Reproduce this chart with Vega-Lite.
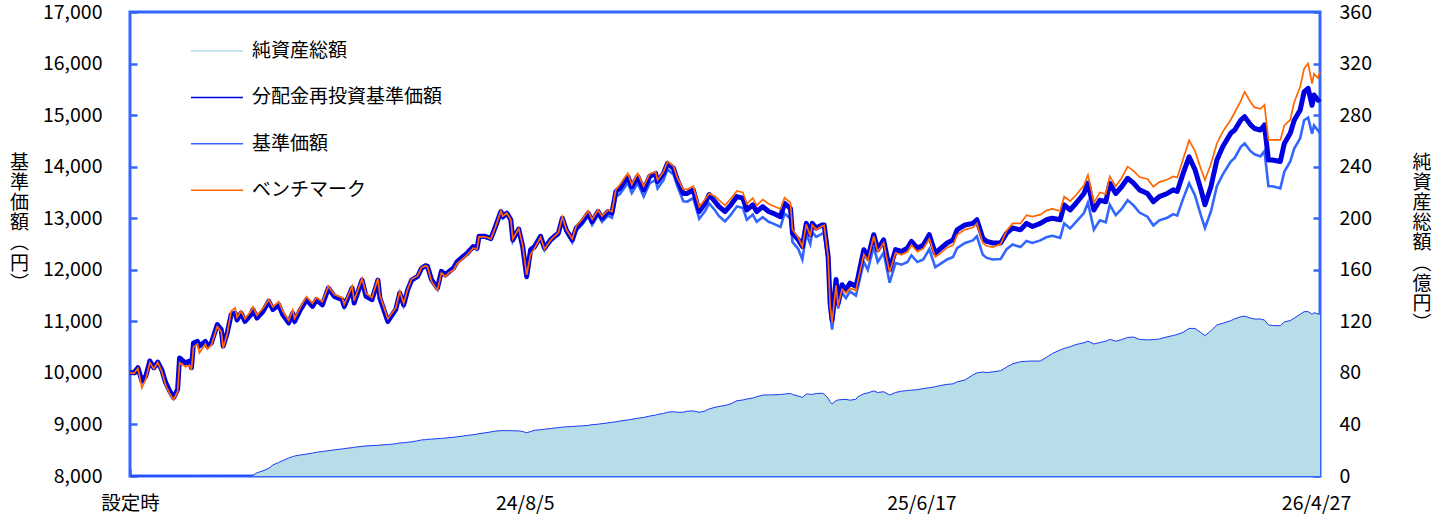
{
"$schema":"https://vega.github.io/schema/vega-lite/v6.json",
"width":1190,"height":464,
"autosize":"none",
"padding":{"left":130,"top":12,"right":115,"bottom":46},
"background":"white",
"config":{
"font":"Noto Sans CJK JP",
"view":{"stroke":"#3366FF","strokeWidth":3},
"axis":{"domain":false,"labelFont":"Noto Sans CJK JP","labelFontSize":19.5,"labelColor":"#000000","tickColor":"#3366FF","tickWidth":2.5,"tickSize":-7,"titleFont":"Noto Sans CJK JP","titleFontSize":19,"titleFontWeight":"normal","titleColor":"#000000","grid":false,"labelOverlap":false,"labelFlush":false,"titleAngle":0,"titleAlign":"center","titleBaseline":"middle","titleLineHeight":20.2},
"axisLeft":{"grid":true,"gridColor":"#3366FF","gridDash":[2,2],"gridWidth":1,"labelPadding":35,"zindex":0},
"axisRight":{"labelPadding":26,"zindex":1,"labelAlign":"left"},
"axisBottom":{"labelPadding":25,"zindex":1}
},
"data":{"values":[
{"d":0,"aum":0,"re":10010,"nav":10000,"bm":10000},
{"d":2,"aum":0,"re":10000,"nav":9990,"bm":9990},
{"d":4,"aum":0,"re":10100,"nav":10090,"bm":10090},
{"d":6,"aum":0,"re":9840,"nav":9830,"bm":9710},
{"d":8,"aum":0,"re":9940,"nav":9930,"bm":9880},
{"d":10,"aum":0,"re":10230,"nav":10220,"bm":10200},
{"d":12,"aum":0,"re":10100,"nav":10090,"bm":10080},
{"d":14,"aum":0,"re":10210,"nav":10200,"bm":10200},
{"d":16,"aum":0,"re":10060,"nav":10050,"bm":10030},
{"d":18,"aum":0,"re":9810,"nav":9800,"bm":9760},
{"d":20,"aum":0,"re":9650,"nav":9640,"bm":9600},
{"d":22,"aum":0,"re":9520,"nav":9510,"bm":9480},
{"d":24,"aum":0,"re":9680,"nav":9670,"bm":9640},
{"d":25,"aum":0,"re":10290,"nav":10280,"bm":10200},
{"d":28,"aum":0,"re":10190,"nav":10180,"bm":10120},
{"d":30,"aum":0.2,"re":10230,"nav":10220,"bm":10150},
{"d":31,"aum":0.2,"re":10100,"nav":10090,"bm":10060},
{"d":32,"aum":0.2,"re":10580,"nav":10570,"bm":10500},
{"d":34,"aum":0.2,"re":10610,"nav":10600,"bm":10560},
{"d":35,"aum":0.2,"re":10520,"nav":10510,"bm":10390},
{"d":38,"aum":0.2,"re":10610,"nav":10600,"bm":10560},
{"d":39,"aum":0.2,"re":10520,"nav":10510,"bm":10460},
{"d":41,"aum":0.2,"re":10580,"nav":10570,"bm":10540},
{"d":44,"aum":0.2,"re":10935,"nav":10925,"bm":10900},
{"d":46,"aum":0.2,"re":10840,"nav":10830,"bm":10800},
{"d":47,"aum":0.2,"re":10520,"nav":10510,"bm":10480},
{"d":49,"aum":0.2,"re":10775,"nav":10765,"bm":10760},
{"d":51,"aum":0.2,"re":11130,"nav":11120,"bm":11200},
{"d":53,"aum":0.2,"re":11160,"nav":11150,"bm":11260},
{"d":54,"aum":0.2,"re":11030,"nav":11020,"bm":11080},
{"d":56,"aum":0.2,"re":11160,"nav":11150,"bm":11200},
{"d":58,"aum":0.2,"re":11000,"nav":10990,"bm":11050},
{"d":61,"aum":0.2,"re":11130,"nav":11120,"bm":11200},
{"d":62,"aum":0.5,"re":11230,"nav":11220,"bm":11280},
{"d":64,"aum":2.5,"re":11065,"nav":11055,"bm":11120},
{"d":67,"aum":4,"re":11190,"nav":11180,"bm":11250},
{"d":70,"aum":6,"re":11390,"nav":11380,"bm":11420},
{"d":72,"aum":8.5,"re":11230,"nav":11220,"bm":11280},
{"d":75,"aum":10.5,"re":11320,"nav":11310,"bm":11380},
{"d":77,"aum":12,"re":11130,"nav":11120,"bm":11200},
{"d":80,"aum":14,"re":10970,"nav":10960,"bm":11020},
{"d":82,"aum":15,"re":11160,"nav":11150,"bm":11220},
{"d":83,"aum":15.5,"re":11000,"nav":10990,"bm":11060},
{"d":86,"aum":16.3,"re":11230,"nav":11220,"bm":11280},
{"d":89,"aum":17,"re":11420,"nav":11410,"bm":11480},
{"d":92,"aum":17.8,"re":11290,"nav":11280,"bm":11350},
{"d":94,"aum":18.4,"re":11420,"nav":11410,"bm":11460},
{"d":97,"aum":19,"re":11320,"nav":11310,"bm":11380},
{"d":100,"aum":19.6,"re":11645,"nav":11635,"bm":11680},
{"d":103,"aum":20.3,"re":11485,"nav":11475,"bm":11520},
{"d":107,"aum":21,"re":11420,"nav":11410,"bm":11460},
{"d":108,"aum":21.3,"re":11290,"nav":11280,"bm":11330},
{"d":112,"aum":22,"re":11645,"nav":11635,"bm":11680},
{"d":113,"aum":22.3,"re":11355,"nav":11345,"bm":11400},
{"d":117,"aum":23,"re":11800,"nav":11790,"bm":11830},
{"d":119,"aum":23.3,"re":11485,"nav":11475,"bm":11540},
{"d":122,"aum":23.6,"re":11420,"nav":11410,"bm":11460},
{"d":125,"aum":23.8,"re":11800,"nav":11790,"bm":11830},
{"d":126,"aum":24,"re":11450,"nav":11440,"bm":11500},
{"d":130,"aum":24.4,"re":11000,"nav":10990,"bm":11050},
{"d":134,"aum":25,"re":11230,"nav":11220,"bm":11260},
{"d":136,"aum":25.6,"re":11550,"nav":11540,"bm":11580},
{"d":138,"aum":25.8,"re":11320,"nav":11310,"bm":11350},
{"d":140,"aum":26.2,"re":11610,"nav":11600,"bm":11620},
{"d":142,"aum":26.5,"re":11800,"nav":11790,"bm":11820},
{"d":145,"aum":27.3,"re":11870,"nav":11860,"bm":11880},
{"d":147,"aum":28,"re":12030,"nav":12020,"bm":12040},
{"d":149,"aum":28.2,"re":12080,"nav":12060,"bm":12080},
{"d":150,"aum":28.4,"re":12065,"nav":12045,"bm":12060},
{"d":152,"aum":28.6,"re":11810,"nav":11790,"bm":11780},
{"d":155,"aum":29,"re":11645,"nav":11620,"bm":11600},
{"d":157,"aum":29.2,"re":11970,"nav":11950,"bm":11940},
{"d":159,"aum":29.4,"re":11900,"nav":11880,"bm":11870},
{"d":161,"aum":29.8,"re":11970,"nav":11950,"bm":11950},
{"d":163,"aum":30,"re":12030,"nav":12010,"bm":11990},
{"d":165,"aum":30.5,"re":12160,"nav":12130,"bm":12120},
{"d":168,"aum":31,"re":12260,"nav":12230,"bm":12220},
{"d":170,"aum":31.5,"re":12320,"nav":12290,"bm":12290},
{"d":173,"aum":32,"re":12450,"nav":12420,"bm":12420},
{"d":175,"aum":32.5,"re":12420,"nav":12390,"bm":12400},
{"d":176,"aum":32.8,"re":12650,"nav":12620,"bm":12640},
{"d":179,"aum":33.5,"re":12650,"nav":12620,"bm":12640},
{"d":182,"aum":34.2,"re":12610,"nav":12580,"bm":12600},
{"d":184,"aum":34.8,"re":12810,"nav":12780,"bm":12800},
{"d":187,"aum":35.2,"re":13130,"nav":13100,"bm":13140},
{"d":188,"aum":35.2,"re":13030,"nav":13000,"bm":13040},
{"d":190,"aum":35.2,"re":13100,"nav":13070,"bm":13100},
{"d":192,"aum":35.2,"re":12970,"nav":12940,"bm":12970},
{"d":193,"aum":35.1,"re":12580,"nav":12550,"bm":12600},
{"d":196,"aum":35,"re":12790,"nav":12760,"bm":12800},
{"d":198,"aum":34.5,"re":12450,"nav":12420,"bm":12470},
{"d":200,"aum":33.6,"re":11870,"nav":11820,"bm":11900},
{"d":202,"aum":34.5,"re":12390,"nav":12350,"bm":12300},
{"d":204,"aum":35.5,"re":12450,"nav":12410,"bm":12420},
{"d":207,"aum":35.9,"re":12650,"nav":12610,"bm":12630},
{"d":209,"aum":36.3,"re":12420,"nav":12380,"bm":12400},
{"d":212,"aum":36.8,"re":12580,"nav":12540,"bm":12570},
{"d":214,"aum":37.2,"re":12650,"nav":12610,"bm":12650},
{"d":216,"aum":37.5,"re":12710,"nav":12670,"bm":12720},
{"d":218,"aum":37.9,"re":13000,"nav":12960,"bm":13030},
{"d":220,"aum":38.2,"re":12770,"nav":12730,"bm":12780},
{"d":223,"aum":38.4,"re":12580,"nav":12530,"bm":12600},
{"d":225,"aum":38.6,"re":12810,"nav":12760,"bm":12850},
{"d":228,"aum":38.9,"re":12935,"nav":12880,"bm":12980},
{"d":231,"aum":39.3,"re":13100,"nav":13040,"bm":13140},
{"d":233,"aum":39.8,"re":12935,"nav":12870,"bm":12980},
{"d":236,"aum":40.2,"re":13130,"nav":13060,"bm":13160},
{"d":238,"aum":40.6,"re":13000,"nav":12930,"bm":13040},
{"d":241,"aum":41.2,"re":13130,"nav":13050,"bm":13160},
{"d":243,"aum":41.7,"re":13100,"nav":13010,"bm":13130},
{"d":245,"aum":42,"re":13520,"nav":13420,"bm":13560},
{"d":247,"aum":42.6,"re":13580,"nav":13470,"bm":13650},
{"d":251,"aum":43.5,"re":13810,"nav":13690,"bm":13870},
{"d":253,"aum":44,"re":13610,"nav":13490,"bm":13650},
{"d":256,"aum":44.8,"re":13810,"nav":13680,"bm":13870},
{"d":259,"aum":45.4,"re":13550,"nav":13420,"bm":13620},
{"d":262,"aum":46.5,"re":13810,"nav":13680,"bm":13860},
{"d":265,"aum":47.2,"re":13870,"nav":13740,"bm":13900},
{"d":266,"aum":47.8,"re":13710,"nav":13580,"bm":13740},
{"d":269,"aum":48.5,"re":13870,"nav":13740,"bm":13900},
{"d":271,"aum":49.5,"re":14065,"nav":13950,"bm":14100},
{"d":274,"aum":49.9,"re":13970,"nav":13850,"bm":14010},
{"d":276,"aum":49.4,"re":13740,"nav":13620,"bm":13780},
{"d":279,"aum":49.5,"re":13480,"nav":13330,"bm":13560},
{"d":281,"aum":50.3,"re":13480,"nav":13320,"bm":13560},
{"d":284,"aum":50.5,"re":13550,"nav":13390,"bm":13620},
{"d":287,"aum":49.4,"re":13130,"nav":12990,"bm":13220},
{"d":290,"aum":50.5,"re":13290,"nav":13140,"bm":13370},
{"d":292,"aum":52,"re":13460,"nav":13290,"bm":13480},
{"d":295,"aum":53.3,"re":13320,"nav":13150,"bm":13420},
{"d":297,"aum":54,"re":13225,"nav":13040,"bm":13350},
{"d":300,"aum":54.7,"re":13130,"nav":12940,"bm":13250},
{"d":303,"aum":56,"re":13260,"nav":13070,"bm":13380},
{"d":306,"aum":58.4,"re":13420,"nav":13230,"bm":13530},
{"d":309,"aum":59,"re":13390,"nav":13200,"bm":13500},
{"d":311,"aum":59.7,"re":13160,"nav":12970,"bm":13280},
{"d":314,"aum":60.5,"re":13260,"nav":13070,"bm":13390},
{"d":316,"aum":61.5,"re":13130,"nav":12930,"bm":13250},
{"d":319,"aum":62.8,"re":13225,"nav":13020,"bm":13360},
{"d":322,"aum":62.9,"re":13130,"nav":12930,"bm":13280},
{"d":324,"aum":63,"re":13100,"nav":12900,"bm":13240},
{"d":328,"aum":63.2,"re":13030,"nav":12830,"bm":13180},
{"d":330,"aum":63.6,"re":13290,"nav":13090,"bm":13400},
{"d":333,"aum":64,"re":13190,"nav":12990,"bm":13300},
{"d":334,"aum":63.3,"re":12710,"nav":12540,"bm":12780},
{"d":337,"aum":62,"re":12580,"nav":12400,"bm":12620},
{"d":339,"aum":61,"re":12450,"nav":12200,"bm":12450},
{"d":341,"aum":63.6,"re":12900,"nav":12700,"bm":12880},
{"d":343,"aum":63.4,"re":12680,"nav":12500,"bm":12650},
{"d":344,"aum":63.3,"re":12900,"nav":12730,"bm":12870},
{"d":346,"aum":64,"re":12810,"nav":12640,"bm":12780},
{"d":349,"aum":64.2,"re":12870,"nav":12700,"bm":12850},
{"d":350,"aum":63.5,"re":12870,"nav":12700,"bm":12860},
{"d":352,"aum":60.3,"re":12260,"nav":12100,"bm":12250},
{"d":353,"aum":57.5,"re":11350,"nav":11150,"bm":11300},
{"d":354,"aum":55.9,"re":11030,"nav":10840,"bm":10980},
{"d":356,"aum":58.5,"re":11810,"nav":11500,"bm":11700},
{"d":357,"aum":59,"re":11350,"nav":11250,"bm":11300},
{"d":359,"aum":59.3,"re":11710,"nav":11550,"bm":11620},
{"d":361,"aum":59.5,"re":11610,"nav":11450,"bm":11550},
{"d":363,"aum":58.8,"re":11740,"nav":11580,"bm":11640},
{"d":366,"aum":59.5,"re":11680,"nav":11500,"bm":11600},
{"d":367,"aum":61.5,"re":11840,"nav":11660,"bm":11780},
{"d":370,"aum":63.8,"re":12390,"nav":12150,"bm":12300},
{"d":372,"aum":64.5,"re":12230,"nav":12000,"bm":12180},
{"d":375,"aum":66,"re":12680,"nav":12450,"bm":12650},
{"d":377,"aum":64.8,"re":12390,"nav":12150,"bm":12350},
{"d":380,"aum":65.4,"re":12580,"nav":12330,"bm":12520},
{"d":383,"aum":62.8,"re":12000,"nav":11750,"bm":11950},
{"d":386,"aum":64.8,"re":12390,"nav":12130,"bm":12330},
{"d":389,"aum":65.8,"re":12355,"nav":12100,"bm":12290},
{"d":392,"aum":66.3,"re":12420,"nav":12150,"bm":12350},
{"d":394,"aum":66.6,"re":12550,"nav":12280,"bm":12480},
{"d":397,"aum":67,"re":12420,"nav":12150,"bm":12350},
{"d":400,"aum":67.8,"re":12480,"nav":12200,"bm":12410},
{"d":403,"aum":68.5,"re":12680,"nav":12400,"bm":12600},
{"d":406,"aum":69.2,"re":12320,"nav":12050,"bm":12250},
{"d":408,"aum":70,"re":12390,"nav":12100,"bm":12300},
{"d":412,"aum":71.1,"re":12520,"nav":12200,"bm":12430},
{"d":415,"aum":71.5,"re":12580,"nav":12250,"bm":12480},
{"d":417,"aum":73,"re":12775,"nav":12420,"bm":12680},
{"d":421,"aum":74.5,"re":12870,"nav":12520,"bm":12780},
{"d":425,"aum":78.4,"re":12900,"nav":12570,"bm":12820},
{"d":427,"aum":80,"re":12970,"nav":12650,"bm":12900},
{"d":430,"aum":80.7,"re":12610,"nav":12290,"bm":12520},
{"d":432,"aum":80.2,"re":12550,"nav":12230,"bm":12460},
{"d":435,"aum":80.8,"re":12520,"nav":12200,"bm":12440},
{"d":439,"aum":81.7,"re":12520,"nav":12210,"bm":12500},
{"d":442,"aum":84.5,"re":12710,"nav":12400,"bm":12760},
{"d":445,"aum":87,"re":12810,"nav":12490,"bm":12900},
{"d":449,"aum":88.7,"re":12775,"nav":12440,"bm":12900},
{"d":452,"aum":89,"re":12900,"nav":12560,"bm":13060},
{"d":455,"aum":89.2,"re":12840,"nav":12520,"bm":13030},
{"d":459,"aum":89.2,"re":12900,"nav":12570,"bm":13070},
{"d":462,"aum":92,"re":12970,"nav":12630,"bm":13150},
{"d":465,"aum":95,"re":13000,"nav":12660,"bm":13180},
{"d":469,"aum":97.8,"re":12970,"nav":12620,"bm":13140},
{"d":471,"aum":99,"re":13260,"nav":12900,"bm":13420},
{"d":474,"aum":100.3,"re":13160,"nav":12800,"bm":13330},
{"d":477,"aum":102,"re":13290,"nav":12930,"bm":13450},
{"d":481,"aum":103.4,"re":13480,"nav":13100,"bm":13640},
{"d":483,"aum":104.6,"re":13680,"nav":13300,"bm":13840},
{"d":486,"aum":102.4,"re":13160,"nav":12780,"bm":13300},
{"d":489,"aum":103.6,"re":13350,"nav":12960,"bm":13500},
{"d":492,"aum":104.6,"re":13320,"nav":12920,"bm":13470},
{"d":494,"aum":106,"re":13680,"nav":13260,"bm":13810},
{"d":497,"aum":104.6,"re":13480,"nav":13060,"bm":13620},
{"d":500,"aum":105.8,"re":13610,"nav":13180,"bm":13780},
{"d":503,"aum":107.5,"re":13775,"nav":13350,"bm":14000},
{"d":506,"aum":107.8,"re":13680,"nav":13250,"bm":13920},
{"d":509,"aum":106,"re":13550,"nav":13110,"bm":13800},
{"d":513,"aum":105.6,"re":13480,"nav":13030,"bm":13760},
{"d":516,"aum":105.8,"re":13320,"nav":12860,"bm":13610},
{"d":519,"aum":106.3,"re":13420,"nav":12960,"bm":13700},
{"d":523,"aum":108,"re":13480,"nav":13010,"bm":13750},
{"d":526,"aum":109,"re":13550,"nav":13080,"bm":13810},
{"d":528,"aum":109.8,"re":13520,"nav":13050,"bm":13790},
{"d":531,"aum":111.5,"re":13870,"nav":13380,"bm":14150},
{"d":534,"aum":114.5,"re":14190,"nav":13680,"bm":14510},
{"d":537,"aum":114.5,"re":13940,"nav":13440,"bm":14300},
{"d":540,"aum":111.2,"re":13550,"nav":13050,"bm":13950},
{"d":542,"aum":108.9,"re":13260,"nav":12810,"bm":13740},
{"d":545,"aum":112.7,"re":13610,"nav":13130,"bm":14050},
{"d":548,"aum":117.2,"re":14130,"nav":13620,"bm":14450},
{"d":551,"aum":118.5,"re":14390,"nav":13850,"bm":14680},
{"d":555,"aum":120.5,"re":14650,"nav":14100,"bm":14910},
{"d":557,"aum":122,"re":14710,"nav":14170,"bm":15050},
{"d":560,"aum":123.5,"re":14900,"nav":14380,"bm":15270},
{"d":562,"aum":124,"re":14970,"nav":14450,"bm":15450},
{"d":565,"aum":122.5,"re":14810,"nav":14300,"bm":15250},
{"d":567,"aum":121.8,"re":14740,"nav":14240,"bm":15150},
{"d":570,"aum":121.8,"re":14710,"nav":14200,"bm":15120},
{"d":572,"aum":121,"re":14810,"nav":14300,"bm":15200},
{"d":574,"aum":117.2,"re":14130,"nav":13620,"bm":14520},
{"d":576,"aum":116.8,"re":14130,"nav":13620,"bm":14520},
{"d":580,"aum":116.6,"re":14100,"nav":13580,"bm":14520},
{"d":582,"aum":119.5,"re":14450,"nav":13900,"bm":14800},
{"d":585,"aum":120.6,"re":14650,"nav":14100,"bm":14910},
{"d":587,"aum":122.5,"re":14900,"nav":14350,"bm":15250},
{"d":590,"aum":125.5,"re":15100,"nav":14550,"bm":15550},
{"d":592,"aum":127.5,"re":15450,"nav":14900,"bm":15900},
{"d":594,"aum":127.5,"re":15520,"nav":14950,"bm":16000},
{"d":596,"aum":125.5,"re":15190,"nav":14640,"bm":15610},
{"d":597,"aum":126.7,"re":15390,"nav":14800,"bm":15800},
{"d":599,"aum":125.7,"re":15290,"nav":14700,"bm":15720},
{"d":600,"aum":125.7,"re":15320,"nav":14650,"bm":15840}
]},
"layer":[
{"layer":[
{"mark":{"type":"area","opacity":1},
"encoding":{
"x":{"field":"d","type":"quantitative","scale":{"domain":[0,600],"nice":false,"zero":false},"axis":{"title":null,"values":[0,199,399,598],"labelExpr":"datum.value == 0 ? '設定時' : datum.value == 199 ? '24/8/5' : datum.value == 399 ? '25/6/17' : '26/4/27'"}},
"y":{"field":"aum","type":"quantitative","scale":{"domain":[0,360],"nice":false},"axis":{"orient":"right","values":[0,40,80,120,160,200,240,280,320,360],"format":"d","title":["純","資","産","総","額","︵","億","円","︶"],"titleX":101.5,"titleY":150}},
"color":{"datum":"純資産総額","type":"nominal","scale":{"domain":["純資産総額","分配金再投資基準価額","基準価額","ベンチマーク"],"range":["#B7DDE8","#0000E0","#3366FF","#FF6600"]},
"legend":{"orient":"none","legendX":60,"legendY":12,"title":null,"symbolSize":2704,"labelFontSize":19,"labelFont":"Noto Sans CJK JP","labelColor":"#000000","labelOffset":8,"labelLimit":500,"rowPadding":9.4,"padding":0,"symbolType":"stroke",
"encode":{"symbols":{"update":{
"shape":{"signal":"datum.value === '純資産総額' ? 'M-1,-0.19H1V0.19H-1Z' : 'stroke'"},
"fill":{"signal":"datum.value === '純資産総額' ? '#B7DDE8' : 'transparent'"},
"stroke":{"signal":"datum.value === '純資産総額' ? '#3050F0' : datum.value === '分配金再投資基準価額' ? '#0000E0' : datum.value === '基準価額' ? '#3366FF' : '#FF6600'"},
"strokeWidth":{"signal":"datum.value === '純資産総額' ? 10 : datum.value === '分配金再投資基準価額' ? 6 : datum.value === '基準価額' ? 3 : 2"},
"strokeCap":{"value":"round"},
"opacity":{"value":1}
}}}}}
}},
{"mark":{"type":"line","color":"#1A3AF5","strokeWidth":1},
"encoding":{"x":{"field":"d","type":"quantitative"},"y":{"field":"aum","type":"quantitative"}}}
]},
{"layer":[
{"mark":{"type":"line","strokeWidth":2.6},
"encoding":{"x":{"field":"d","type":"quantitative"},
"y":{"field":"nav","type":"quantitative","scale":{"domain":[8000,17000],"nice":false,"zero":false},"axis":{"orient":"left","values":[8000,9000,10000,11000,12000,13000,14000,15000,16000,17000],"format":",d","title":["基","準","価","額","︵","円","︶"],"titleX":-111,"titleY":150}},
"color":{"datum":"基準価額","type":"nominal"}}},
{"mark":{"type":"line","strokeWidth":5,"strokeJoin":"round"},
"encoding":{"x":{"field":"d","type":"quantitative"},
"y":{"field":"re","type":"quantitative","axis":{"orient":"left","values":[8000,9000,10000,11000,12000,13000,14000,15000,16000,17000],"format":",d","title":["基","準","価","額","︵","円","︶"],"titleX":-111,"titleY":150}},
"color":{"datum":"分配金再投資基準価額","type":"nominal"}}},
{"mark":{"type":"line","strokeWidth":1.7},
"encoding":{"x":{"field":"d","type":"quantitative"},
"y":{"field":"bm","type":"quantitative","axis":{"orient":"left","values":[8000,9000,10000,11000,12000,13000,14000,15000,16000,17000],"format":",d","title":["基","準","価","額","︵","円","︶"],"titleX":-111,"titleY":150}},
"color":{"datum":"ベンチマーク","type":"nominal"}}}
]}
],
"resolve":{"scale":{"y":"independent"}}
}
